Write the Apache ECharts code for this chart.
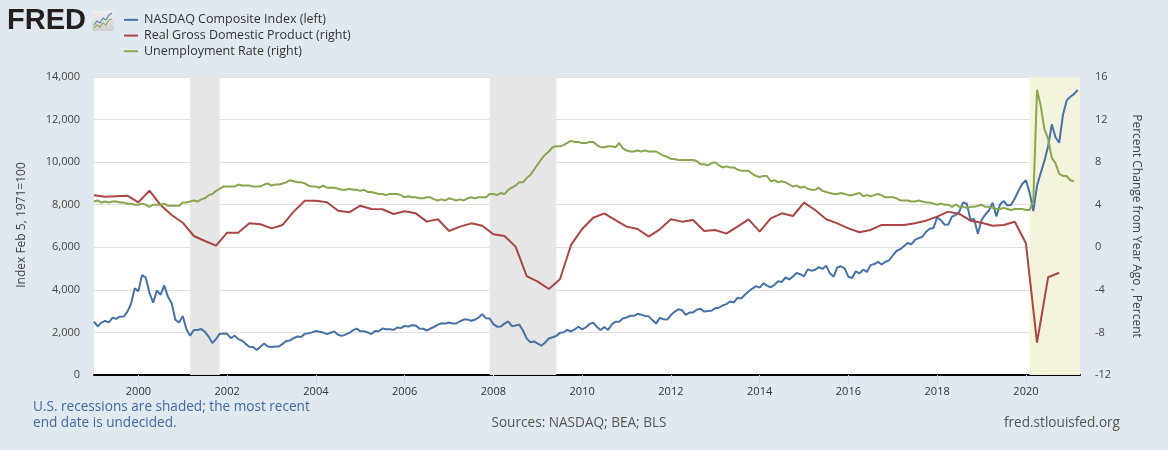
<!DOCTYPE html>
<html><head><meta charset="utf-8">
<script src="https://cdn.jsdelivr.net/npm/echarts@6/dist/echarts.min.js"></script>
<style>html,body{margin:0;padding:0;background:#e1e9f0}#c{width:1168px;height:450px}</style>
</head><body><div id="c"></div>
<script>
// ---- DATA ----
const seriesNames = ['NASDAQ Composite Index (left)', 'Real Gross Domestic Product (right)', 'Unemployment Rate (right)'];
const nasdaqStart = '1999-01'; // monthly
const nasdaq = [
  2505.89,2288.03,2461.40,2542.85,2470.52,2686.12,2638.49,2739.35,2746.16,2966.43,3336.16,4069.31,
  3940.35,4696.69,4572.83,3860.66,3400.91,3966.11,3766.99,4206.35,3672.82,3369.63,2597.93,2470.52,
  2772.73,2151.83,1840.26,2116.24,2110.49,2160.54,2027.13,1805.43,1498.80,1690.20,1930.58,1950.40,
  1934.03,1731.49,1845.35,1688.23,1615.73,1463.21,1328.26,1314.85,1172.06,1329.75,1478.78,1335.51,
  1320.91,1337.52,1341.17,1464.31,1595.91,1622.80,1735.02,1810.45,1786.94,1932.21,1960.26,2003.37,
  2066.15,2029.82,1994.22,1920.15,1986.74,2047.79,1887.36,1838.10,1896.84,1974.99,2096.81,2175.44,
  2062.41,2051.72,1999.23,1921.65,2068.22,2056.96,2184.83,2152.09,2151.69,2120.30,2232.82,2205.32,
  2305.82,2281.39,2339.79,2322.57,2178.88,2172.09,2091.47,2183.75,2258.43,2366.71,2431.77,2415.29,
  2463.93,2416.15,2421.64,2525.09,2604.52,2603.23,2546.27,2596.36,2701.50,2859.12,2660.96,2652.28,
  2389.86,2271.48,2279.10,2412.80,2522.66,2292.98,2325.55,2367.52,2091.88,1720.95,1535.57,1577.03,
  1476.42,1377.84,1528.59,1717.30,1774.33,1835.04,1978.50,2009.06,2122.42,2045.11,2144.60,2269.15,
  2147.35,2238.26,2397.96,2461.19,2257.04,2109.24,2254.70,2114.03,2368.62,2507.41,2498.23,2652.87,
  2700.08,2782.27,2781.07,2873.54,2835.30,2773.52,2756.38,2579.46,2415.40,2684.41,2620.34,2605.15,
  2813.84,2966.89,3091.57,3046.36,2827.34,2935.05,2939.52,3066.96,3116.23,2977.23,3010.24,3019.51,
  3142.13,3160.19,3267.52,3328.79,3455.91,3403.25,3626.37,3589.87,3771.48,3919.71,4059.89,4176.59,
  4103.88,4308.12,4198.99,4114.56,4242.62,4408.18,4369.77,4580.27,4493.39,4630.74,4791.63,4736.05,
  4635.24,4963.53,4900.88,4941.42,5070.03,4986.87,5128.28,4776.51,4620.16,5053.75,5108.67,5007.41,
  4613.95,4557.95,4869.85,4775.36,4948.05,4842.67,5162.13,5213.22,5312.00,5189.14,5323.68,5383.12,
  5614.79,5825.44,5911.74,6047.61,6198.52,6140.42,6348.12,6428.66,6495.96,6727.67,6873.97,6903.39,
  7411.48,7273.01,7063.45,7066.27,7442.12,7510.30,7671.79,8109.54,8046.35,7305.90,7330.54,6635.28,
  7281.74,7532.53,7729.32,8095.39,7453.15,8006.24,8175.42,7962.88,7999.34,8292.36,8665.47,8972.60,
  9150.94,8567.37,7700.10,8889.55,9489.87,10058.77,10745.27,11775.46,11167.51,10911.59,12198.74,12888.28,
  13070.69,13192.35,13390
];
const gdpStart = '1999-01'; // quarterly
const gdp = [
  4.9,4.75,4.8,4.85,
  4.23,5.32,3.97,3.03,
  2.31,1.06,0.59,0.15,
  1.37,1.37,2.25,2.16,
  1.78,2.1,3.35,4.38,
  4.38,4.23,3.44,3.29,
  3.91,3.6,3.57,3.13,
  3.38,3.19,2.41,2.63,
  1.53,1.94,2.25,2.03,
  1.22,1.06,0.06,-2.7,
  -3.23,-3.92,-3.0,0.22,
  1.72,2.78,3.19,2.56,
  1.94,1.72,1.0,1.69,
  2.63,2.41,2.56,1.53,
  1.63,1.28,1.94,2.63,
  1.47,2.72,3.19,2.94,
  4.19,3.5,2.63,2.25,
  1.78,1.41,1.63,2.1,
  2.1,2.1,2.25,2.5,
  2.88,3.35,3.13,2.5,
  2.3,2.03,2.1,2.4,
  0.38,-8.96,-2.82,-2.39
];
const unrateStart = '1999-01'; // monthly
const unrate = [
  4.3,4.4,4.2,4.3,4.2,4.3,4.3,4.2,4.2,4.1,4.1,4.0,
  4.0,4.1,4.0,3.8,4.0,4.0,4.0,4.1,3.9,3.9,3.9,3.9,
  4.2,4.2,4.3,4.4,4.3,4.5,4.6,4.9,5.0,5.3,5.5,5.7,
  5.7,5.7,5.7,5.9,5.8,5.8,5.8,5.7,5.7,5.7,5.9,6.0,
  5.8,5.9,5.9,6.0,6.1,6.3,6.2,6.1,6.1,6.0,5.8,5.7,
  5.7,5.6,5.8,5.6,5.6,5.6,5.5,5.4,5.4,5.5,5.4,5.4,
  5.3,5.4,5.2,5.2,5.1,5.0,5.0,4.9,5.0,5.0,5.0,4.9,
  4.7,4.8,4.7,4.7,4.6,4.6,4.7,4.7,4.5,4.4,4.5,4.4,
  4.6,4.5,4.4,4.5,4.4,4.6,4.7,4.6,4.7,4.7,4.7,5.0,
  5.0,4.9,5.1,5.0,5.4,5.6,5.8,6.1,6.1,6.5,6.8,7.3,
  7.8,8.3,8.7,9.0,9.4,9.5,9.5,9.6,9.8,10.0,9.9,9.9,
  9.8,9.8,9.9,9.9,9.6,9.4,9.4,9.5,9.5,9.4,9.8,9.3,
  9.1,9.0,9.0,9.1,9.0,9.1,9.0,9.0,9.0,8.8,8.6,8.5,
  8.3,8.3,8.2,8.2,8.2,8.2,8.2,8.1,7.8,7.8,7.7,7.9,
  8.0,7.7,7.5,7.6,7.5,7.5,7.3,7.2,7.2,7.2,6.9,6.7,
  6.6,6.7,6.7,6.2,6.3,6.1,6.2,6.1,5.9,5.7,5.8,5.6,
  5.7,5.5,5.4,5.4,5.6,5.3,5.2,5.1,5.0,5.0,5.1,5.0,
  4.9,4.9,5.0,5.1,4.8,4.9,4.8,4.9,5.0,4.9,4.7,4.7,
  4.7,4.6,4.4,4.4,4.4,4.3,4.3,4.4,4.3,4.2,4.2,4.1,
  4.0,4.1,4.0,4.0,3.8,4.0,3.8,3.8,3.7,3.8,3.8,3.9,
  4.0,3.8,3.8,3.7,3.6,3.6,3.7,3.6,3.5,3.6,3.6,3.6,
  3.5,3.5,4.4,14.8,13.3,11.1,10.2,8.4,7.9,6.9,6.7,6.7,
  6.3,6.2
];
const xTickYears = [2000,2002,2004,2006,2008,2010,2012,2014,2016,2018,2020];
const xRange = ['1999-01', '2021-03-20'];
const recessions = [['2001-03','2001-11'],['2007-12','2009-06']];
const openRecessionStart = '2020-02';
const leftAxis = {min: 0, max: 14000, step: 2000};
const rightAxis = {min: -12, max: 16, step: 4};

// ---- helpers ----
function toYear(s) {
  const p = s.split('-').map(Number);
  let y = p[0] + (p[1] - 1) / 12;
  if (p[2]) y += (p[2] - 1) / 365;
  return y;
}
const monthly = (start, arr) => arr.map((v, i) => [toYear(start) + i / 12, v]);
const quarterly = (start, arr) => arr.map((v, i) => [toYear(start) + i / 4, v]);

const FONT = "'Open Sans', 'Noto Sans', sans-serif";
const colors = ['#4572a7', '#aa4643', '#89a54e'];

const chart = echarts.init(document.getElementById('c'));
const markAreaData = recessions.map(r => [{xAxis: toYear(r[0])}, {xAxis: toYear(r[1])}]);
markAreaData.push([{xAxis: toYear(openRecessionStart), itemStyle: {color: '#f4f4dc'}}, {xAxis: toYear(xRange[1])}]);

const txt = (x, y, text, size, fill, align, extra) => Object.assign({
  type: 'text', x: x, y: y,
  style: {text: text, font: size + 'px ' + FONT, fill: fill, align: align, verticalAlign: 'middle', textAlign: align, textVerticalAlign: 'middle'}
}, extra || {});

chart.setOption({
  animation: false,
  backgroundColor: '#e1e9f0',
  color: colors,
  textStyle: {fontFamily: FONT},
  grid: {left: 94, right: 88, top: 77, bottom: 75, containLabel: false, show: true, backgroundColor: '#ffffff', borderWidth: 0},
  legend: {
    orient: 'vertical', left: 124, top: 12, padding: 0, itemGap: 0,
    itemWidth: 14, itemHeight: 2, icon: 'rect', selectedMode: false,
    textStyle: {fontSize: 12.5, color: '#333', lineHeight: 15.7, fontFamily: FONT, padding: [0,0,0,1]},
    data: seriesNames
  },
  xAxis: {
    type: 'value', min: toYear(xRange[0]), max: toYear(xRange[1]),
    axisLine: {show: true, lineStyle: {color: '#000', width: 2}},
    axisTick: {show: true, length: 8, lineStyle: {color: '#ccd6eb'}, customValues: xTickYears},
    axisLabel: {customValues: xTickYears, formatter: v => String(Math.round(v)), color: '#333', fontSize: 11, margin: 11, fontFamily: FONT},
    splitLine: {show: false}
  },
  yAxis: [{
    type: 'value', min: leftAxis.min, max: leftAxis.max, interval: leftAxis.step,
    axisLine: {show: false}, axisTick: {show: false},
    axisLabel: {formatter: v => v.toLocaleString('en-US'), color: '#444', fontSize: 11, margin: 14, fontFamily: FONT},
    splitLine: {lineStyle: {color: '#e0e0e0', width: 1}}
  }, {
    type: 'value', min: rightAxis.min, max: rightAxis.max, interval: rightAxis.step, position: 'right',
    axisLine: {show: false}, axisTick: {show: false},
    axisLabel: {color: '#444', fontSize: 11, margin: 15, fontFamily: FONT},
    splitLine: {show: false}
  }],
  series: [{
    name: seriesNames[0], type: 'line', yAxisIndex: 0, showSymbol: false, symbol: 'none',
    data: monthly(nasdaqStart, nasdaq), lineStyle: {width: 2, color: colors[0]}, z: 3,
    markArea: {silent: true, itemStyle: {color: '#e6e6e6'}, label: {show: false}, data: markAreaData}
  }, {
    name: seriesNames[1], type: 'line', yAxisIndex: 1, showSymbol: false, symbol: 'none',
    data: quarterly(gdpStart, gdp), lineStyle: {width: 2, color: colors[1]}, z: 3
  }, {
    name: seriesNames[2], type: 'line', yAxisIndex: 1, showSymbol: false, symbol: 'none',
    data: monthly(unrateStart, unrate), lineStyle: {width: 2, color: colors[2]}, z: 3
  }],
  graphic: [
    {type: 'text', x: 7, y: 21, style: {text: 'FRED', font: "bold 29px 'Liberation Sans', Arial, sans-serif", fill: '#231f20', align: 'left', verticalAlign: 'middle', textAlign: 'left', textVerticalAlign: 'middle'}},
    {type: 'rect', shape: {x: 92, y: 11, width: 22, height: 20, r: 2}, style: {fill: new echarts.graphic.LinearGradient(0, 0, 0, 1, [{offset: 0, color: '#f0f0f0'}, {offset: 1, color: '#cfcfcf'}])}},
    {type: 'polyline', shape: {points: [[94,25],[97,21],[100,23],[103,18],[106,20],[109,15],[112,13]]}, style: {stroke: '#5b87b8', lineWidth: 1.2, fill: null}},
    {type: 'polyline', shape: {points: [[94,28],[97,25],[100,27],[103,23],[106,25],[109,20],[112,19]]}, style: {stroke: '#8fae5a', lineWidth: 1.2, fill: null}},
    txt(22, 225, 'Index Feb 5, 1971=100', 12, '#444', 'center', {rotation: Math.PI / 2}),
    txt(1136, 226, 'Percent Change from Year Ago , Percent', 12, '#444', 'center', {rotation: -Math.PI / 2}),
    txt(33, 407, 'U.S. recessions are shaded; the most recent', 13.6, '#4369a3', 'left'),
    txt(33, 423.5, 'end date is undecided.', 13.6, '#4369a3', 'left'),
    txt(579, 423.5, 'Sources: NASDAQ; BEA; BLS', 13.6, '#555', 'center'),
    txt(1120, 423.5, 'fred.stlouisfed.org', 13.6, '#555', 'right')
  ]
});
</script></body></html>
